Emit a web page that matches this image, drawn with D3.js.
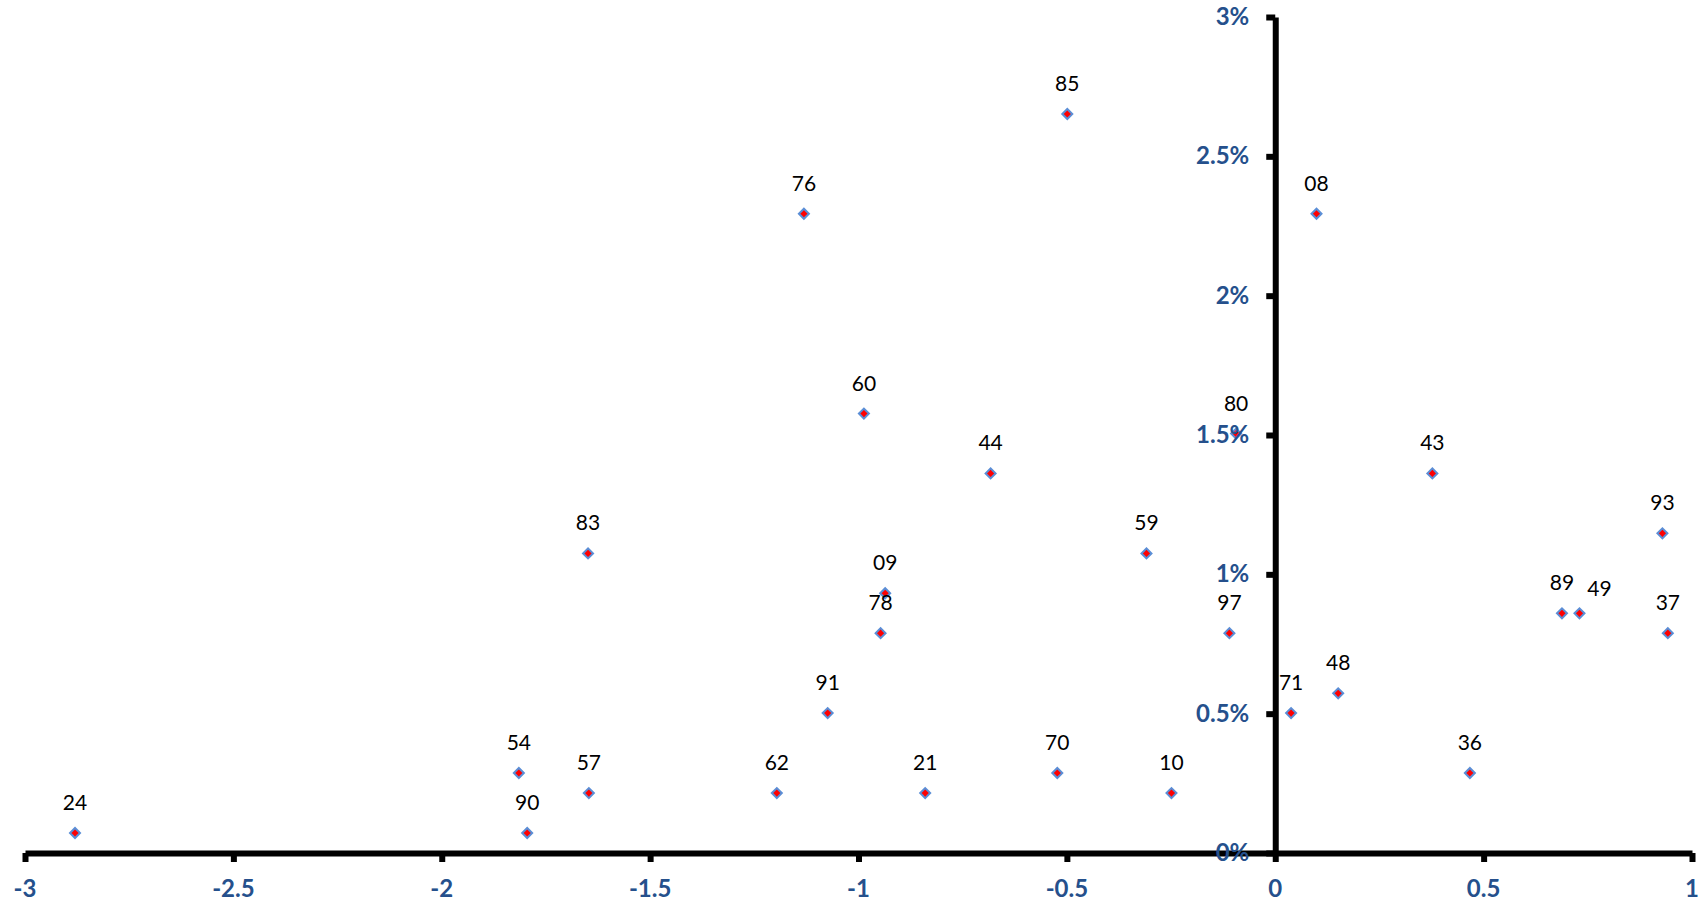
<!DOCTYPE html>
<html>
<head>
<meta charset="utf-8">
<script src="https://cdn.jsdelivr.net/npm/d3@7"></script>
<style>
  html, body { margin: 0; padding: 0; background: #fff; }
  svg { display: block; }
</style>
</head>
<body>
<svg id="chart" width="1708" height="905"></svg>
<script>
// ---- Data ----
const pointLabels = ["24","90","54","57","62","21","70","10","91","78","09","83","60","44","59","97","80","76","85","08","71","48","43","36","89","49","93","37"];
const xValues = [-2.880,-1.795,-1.815,-1.647,-1.196,-0.840,-0.523,-0.249,-1.074,-0.947,-0.936,-1.649,-0.987,-0.683,-0.309,-0.110,-0.094,-1.131,-0.499,0.099,0.038,0.151,0.377,0.467,0.688,0.730,0.929,0.942];
const yValues = [0.000717,0.000717,0.00287,0.00215,0.00215,0.00215,0.00287,0.00215,0.00502,0.00789,0.00932,0.01075,0.01577,0.01362,0.01075,0.00789,0.01505,0.02294,0.02652,0.02294,0.00502,0.00573,0.01362,0.00287,0.00860,0.00860,0.01147,0.00789];
const xTicks = [-3,-2.5,-2,-1.5,-1,-0.5,0,0.5,1];
const xTickLabels = ["-3","-2.5","-2","-1.5","-1","-0.5","0","0.5","1"];
const yTicks = [0,0.005,0.01,0.015,0.02,0.025,0.03];
const yTickLabels = ["0%","0.5%","1%","1.5%","2%","2.5%","3%"];

const points = pointLabels.map((l,i)=>({label:l, x:xValues[i], y:yValues[i]}));

const svg = d3.select("#chart");
const x = d3.scaleLinear().domain([-3,1]).range([25,1692]);
const y = d3.scaleLinear().domain([0,0.03]).range([853,17]);

const axisColor = "#000";
const labelColor = "#25508C";

// X axis (at y=0)
const gx = svg.append("g").attr("transform",`translate(0,${y(0)})`)
  .call(d3.axisBottom(x).tickValues(xTicks).tickSize(9).tickSizeOuter(0).tickFormat(""));
gx.select(".domain").attr("stroke",axisColor).attr("stroke-width",6);
gx.selectAll(".tick line").attr("stroke",axisColor).attr("stroke-width",6);

// Y axis (at x=0)
const gy = svg.append("g").attr("transform",`translate(${x(0)},0)`)
  .call(d3.axisLeft(y).tickValues(yTicks).tickSize(9).tickSizeOuter(0).tickFormat(""));
gy.select(".domain").attr("stroke",axisColor).attr("stroke-width",6);
gy.selectAll(".tick line").attr("stroke",axisColor).attr("stroke-width",6);

// Markers
const diamond = d3.symbol().type(d3.symbolSquare).size(50);
svg.append("g").selectAll("path").data(points).join("path")
  .attr("d", diamond)
  .attr("transform", d=>`translate(${x(d.x)},${y(d.y)}) rotate(45)`)
  .attr("fill","#FF0000")
  .attr("stroke","#5B8ED6")
  .attr("stroke-width",2);

// Data labels (label "49" is nudged right/down as in the reference)
svg.append("g").selectAll("text").data(points).join("text")
  .attr("x", d=>x(d.x) + (d.label==="49" ? 20 : 0))
  .attr("y", d=>y(d.y) - 23 + (d.label==="49" ? 6 : 0))
  .attr("text-anchor","middle")
  .attr("font-family","Lato, 'DejaVu Sans', sans-serif")
  .attr("font-size",21)
  .attr("fill","#000")
  .text(d=>d.label);

// Y tick labels
svg.append("g").selectAll("text").data(yTicks).join("text")
  .attr("x", x(0)-26)
  .attr("y", d=>y(d)+8)
  .attr("text-anchor","end")
  .attr("font-family","Lato, 'DejaVu Sans', sans-serif")
  .attr("font-weight","bold")
  .attr("font-size",24)
  .attr("fill",labelColor)
  .text((d,i)=>yTickLabels[i]);

// X tick labels
svg.append("g").selectAll("text").data(xTicks).join("text")
  .attr("x", d=>x(d))
  .attr("y", 897)
  .attr("text-anchor","middle")
  .attr("font-family","Lato, 'DejaVu Sans', sans-serif")
  .attr("font-weight","bold")
  .attr("font-size",24)
  .attr("fill",labelColor)
  .text((d,i)=>xTickLabels[i]);
</script>
</body>
</html>
